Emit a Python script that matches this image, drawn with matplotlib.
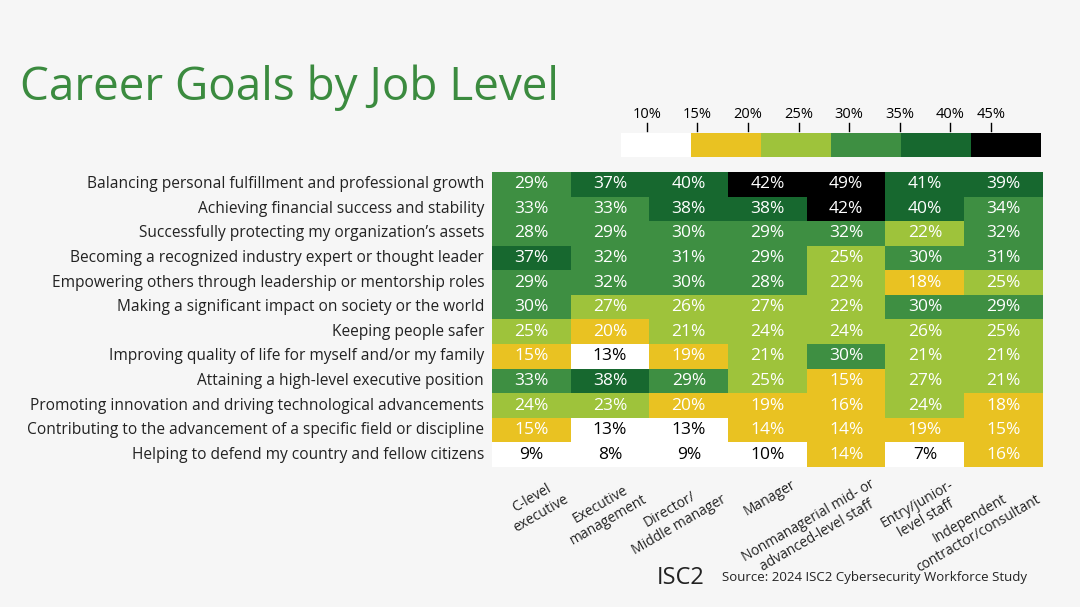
import matplotlib.pyplot as plt
import numpy as np
from matplotlib.colors import ListedColormap, BoundaryNorm

goals = [
    "Balancing personal fulfillment and professional growth",
    "Achieving financial success and stability",
    "Successfully protecting my organization\u2019s assets",
    "Becoming a recognized industry expert or thought leader",
    "Empowering others through leadership or mentorship roles",
    "Making a significant impact on society or the world",
    "Keeping people safer",
    "Improving quality of life for myself and/or my family",
    "Attaining a high-level executive position",
    "Promoting innovation and driving technological advancements",
    "Contributing to the advancement of a specific field or discipline",
    "Helping to defend my country and fellow citizens",
]
levels = [
    "C-level\nexecutive",
    "Executive\nmanagement",
    "Director/\nMiddle manager",
    "Manager",
    "Nonmanagerial mid- or\nadvanced-level staff",
    "Entry/junior-\nlevel staff",
    "Independent\ncontractor/consultant",
]
values = np.array([
    [29, 37, 40, 42, 49, 41, 39],
    [33, 33, 38, 38, 42, 40, 34],
    [28, 29, 30, 29, 32, 22, 32],
    [37, 32, 31, 29, 25, 30, 31],
    [29, 32, 30, 28, 22, 18, 25],
    [30, 27, 26, 27, 22, 30, 29],
    [25, 20, 21, 24, 24, 26, 25],
    [15, 13, 19, 21, 30, 21, 21],
    [33, 38, 29, 25, 15, 27, 21],
    [24, 23, 20, 19, 16, 24, 18],
    [15, 13, 13, 14, 14, 19, 15],
    [9, 8, 9, 10, 14, 7, 16],
])
legend_ticks = [10, 15, 20, 25, 30, 35, 40, 45]

colors = ["#ffffff", "#e9c222", "#9ec33b", "#3e8f42", "#17682f", "#000000"]
bounds = [0, 13.5, 20.5, 27.5, 34.5, 41.5, 100]
cmap = ListedColormap(colors)
norm = BoundaryNorm(bounds, cmap.N)

W, H = 1080, 607
fig = plt.figure(figsize=(W / 100, H / 100), dpi=100)
fig.patch.set_facecolor("#f6f6f6")


def fax(x0, y0, x1, y1):
    return fig.add_axes([x0 / W, 1 - y1 / H, (x1 - x0) / W, (y1 - y0) / H])


fig.text(20 / W, 1 - 88 / H, "Career Goals by Job Level", fontsize=33,
         color="#3b8b3f", va="center", ha="left", family="Open Sans")

# heatmap
ax = fax(492, 172, 1043, 467)
ax.imshow(values, cmap=cmap, norm=norm, aspect="auto")
for i in range(values.shape[0]):
    for j in range(values.shape[1]):
        v = values[i, j]
        ax.text(j, i, f"{v}%", ha="center", va="center", fontsize=12.5,
                color="black" if v < 13.5 else "white", family="Open Sans")
ax.set_xticks([])
ax.set_yticks([])
for s in ax.spines.values():
    s.set_visible(False)
for i, g in enumerate(goals):
    ax.text(-0.6, i, g, ha="right", va="center", fontsize=11.2,
            color="#222222", family="Open Sans")
for j, lv in enumerate(levels):
    ax.text(j + 0.3, 11.9, lv, ha="right", va="top", rotation=30,
            rotation_mode="anchor", multialignment="center", fontsize=10,
            color="#222222", family="Open Sans")

# legend bar
lax = fax(621, 133, 1041, 157)
lax.imshow(np.array([[10, 17, 24, 31, 38, 45]]), cmap=cmap, norm=norm,
           aspect="auto", extent=[0, 6, 0, 1])
lax.set_xticks([])
lax.set_yticks([])
for s in lax.spines.values():
    s.set_visible(False)
tick_px = [647, 697, 748, 799, 849, 900, 950, 991]
for t, px in zip(legend_ticks, tick_px):
    x = px / W
    fig.text(x, 1 - 114 / H, f"{t}%", ha="center", va="center",
             fontsize=10.5, family="Open Sans")
    fig.add_artist(plt.Line2D([x, x], [1 - 123 / H, 1 - 131 / H],
                              color="black", lw=1))

fig.text(657 / W, 1 - 578 / H, "ISC2", fontsize=17, ha="left", va="center",
         color="#222222", family="Open Sans")
fig.text(722 / W, 1 - 578 / H, "Source: 2024 ISC2 Cybersecurity Workforce Study",
         fontsize=9.5, ha="left", va="center", color="#222222", family="Open Sans")

fig.savefig("out.png", dpi=100, facecolor=fig.get_facecolor())
